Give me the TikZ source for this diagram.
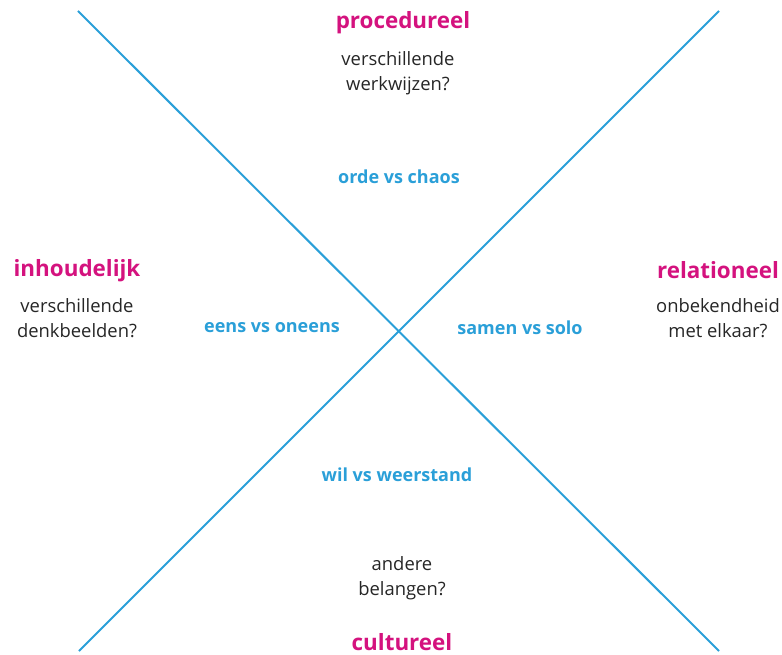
\documentclass[tikz,border=0pt]{standalone}
\usepackage{fontspec}
\setmainfont{Open Sans}
\definecolor{kruisblauw}{HTML}{2A9FD8}
\definecolor{koproze}{HTML}{D4127E}

\begin{document}
\begin{tikzpicture}[x=1pt, y=-1pt,
        kop/.style={font=\bfseries\fontsize{22.4}{26}\selectfont, text=koproze},
        vraag/.style={font=\fontsize{18.4}{25}\selectfont, text=black!85, align=center},
        as/.style={font=\bfseries\fontsize{18}{21}\selectfont, text=kruisblauw}]
        \useasboundingbox (0,0) rectangle (782,655);
        \coordinate (lb) at (78,11);
        \coordinate (rb) at (719,11);
        \coordinate (lo) at (79,651);
        \coordinate (ro) at (719,651);
        \draw[kruisblauw, line width=2pt] (lb) -- (ro);
        \draw[kruisblauw, line width=2pt] (rb) -- (lo);
        \node[kop] (procedureel) at (403,22.5) {procedureel};
        \node[vraag] (werkwijzen) at (398,73.5) {verschillende\\werkwijzen?};
        \node[as] (orde) at (399,176.5) {orde vs chaos};
        \node[kop] (inhoudelijk) at (77,270.5) {inhoudelijk};
        \node[vraag] (denkbeelden) at (77,318.5) {verschillende\\denkbeelden?};
        \node[as] (eens) at (272,328) {eens vs oneens};
        \node[as] (samen) at (520,327.5) {samen vs solo};
        \node[kop] (relationeel) at (718,270) {relationeel};
        \node[vraag] (elkaar) at (718,318.5) {onbekendheid\\met elkaar?};
        \node[as] (wil) at (397,474.5) {wil vs weerstand};
        \node[vraag] (belangen) at (402,578) {andere\\belangen?};
        \node[kop] (cultureel) at (402,642) {cultureel};
    \end{tikzpicture}
\end{document}
